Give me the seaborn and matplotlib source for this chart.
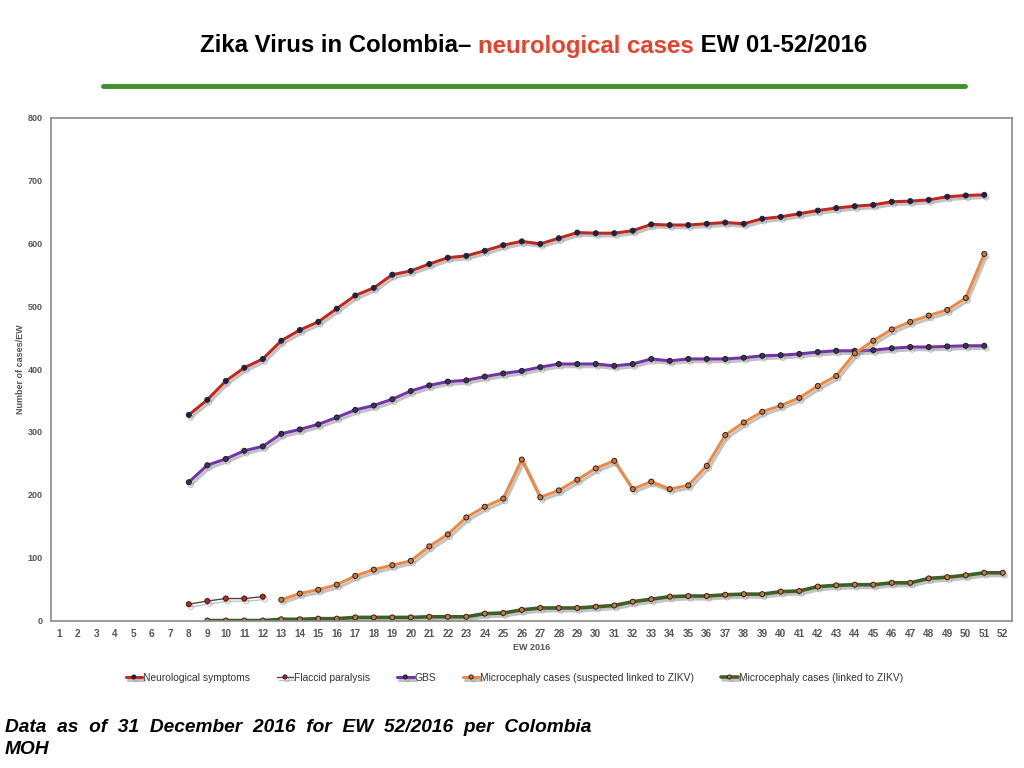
import matplotlib
matplotlib.use("Agg")
import matplotlib.pyplot as plt
import matplotlib.patheffects as pe
import seaborn as sns
import pandas as pd

# Weekly counts (EW 2016)
neuro_weeks = list(range(8, 52))
neuro_vals = [327, 351, 381, 402, 416, 445, 462, 475, 496, 517, 529, 550, 556, 567,
              577, 580, 588, 597, 603, 599, 608, 617, 616, 616, 620, 630, 629, 629,
              631, 633, 631, 639, 642, 647, 652, 656, 659, 661, 666, 667, 669, 674,
              676, 677]

flaccid_weeks = list(range(8, 13))
flaccid_vals = [26, 31, 35, 35, 38]

gbs_weeks = list(range(8, 52))
gbs_vals = [220, 247, 257, 270, 277, 297, 304, 312, 323, 335, 342, 352, 365, 374,
            380, 382, 388, 393, 397, 403, 408, 408, 408, 405, 408, 416, 413, 416,
            416, 416, 418, 421, 422, 424, 427, 429, 429, 430, 433, 435, 435, 436,
            437, 437]

micro_susp_weeks = list(range(13, 52))
micro_susp_vals = [33, 43, 49, 57, 71, 81, 88, 95, 118, 137, 164, 181, 194, 256,
                   196, 207, 224, 242, 254, 209, 221, 209, 215, 246, 295, 315, 332,
                   342, 354, 373, 389, 425, 445, 463, 475, 485, 494, 513, 583]

micro_link_weeks = list(range(9, 53))
micro_link_vals = [0, 0, 0, 0, 2, 2, 3, 3, 5, 5, 5, 5, 6, 6, 6, 11, 12, 17, 20, 20,
                   20, 22, 24, 30, 34, 38, 39, 39, 41, 42, 42, 46, 47, 54, 56, 57,
                   57, 60, 60, 67, 69, 72, 76, 76]

week_ticks = list(range(1, 53))

series = [
    ("Neurological symptoms", neuro_weeks, neuro_vals, "#c0281c", "#1c2340", "#1c2340", 2.2),
    ("Flaccid paralysis", flaccid_weeks, flaccid_vals, "#4a4a4a", "#c0281c", "#3a1010", 1.0),
    ("GBS", gbs_weeks, gbs_vals, "#7434a8", "#3a3550", "#1c1c2c", 2.2),
    ("Microcephaly cases (suspected linked to ZIKV)", micro_susp_weeks, micro_susp_vals,
     "#ea8a44", "#d9772e", "#222222", 2.2),
    ("Microcephaly cases (linked to ZIKV)", micro_link_weeks, micro_link_vals,
     "#3f5f2a", "#d9772e", "#222222", 2.6),
]

sns.set_theme(style="white")
plt.rcParams["font.family"] = ["Liberation Sans", "DejaVu Sans"]

fig = plt.figure(figsize=(10.24, 7.68), dpi=100)
ax = fig.add_axes([0.0498, 0.192, 0.9385, 0.655])

shadow = [pe.SimpleLineShadow(offset=(1.5, -2), shadow_color="#888888", alpha=0.5),
          pe.Normal()]

for name, weeks, vals, lc, mfc, mec, lw in series:
    df = pd.DataFrame({"EW": weeks, "cases": vals})
    sns.lineplot(data=df, x="EW", y="cases", ax=ax, color=lc, linewidth=lw,
                 marker="o", markersize=3.6, markerfacecolor=mfc,
                 markeredgecolor=mec, markeredgewidth=0.7, label=name,
                 path_effects=shadow)

ax.set_xlim(0.55, 52.5)
ax.set_ylim(0, 800)
ax.set_xticks(week_ticks)
ax.set_yticks(range(0, 801, 100))
ax.tick_params(axis="x", labelsize=7.2, colors="#555555", length=0, pad=6)
ax.tick_params(axis="y", labelsize=6.5, colors="#555555", length=0, pad=6)
for lab in ax.get_xticklabels() + ax.get_yticklabels():
    lab.set_fontweight("bold")
for sp in ax.spines.values():
    sp.set_color("#8a8a8a")
    sp.set_linewidth(1.2)

ax.set_xlabel("EW 2016", fontsize=6.5, fontweight="bold", color="#555555", labelpad=3)
ax.set_ylabel("Number of cases/EW", fontsize=6.5, fontweight="bold", color="#555555",
              labelpad=2)

leg = ax.legend(loc="upper center", bbox_to_anchor=(0.482, -0.085), ncol=5,
                frameon=False, fontsize=7.4, handlelength=1.6, handletextpad=0.1,
                columnspacing=2.6, markerscale=0.8)
for t in leg.get_texts():
    t.set_color("#333333")

# Title with red middle part
fig.canvas.draw()
r = fig.canvas.get_renderer()
parts = [("Zika Virus in Colombia– ", "black"), ("neurological cases", "#e8412c"),
         (" EW 01-52/2016", "black")]
texts = []
x = 0
for s, c in parts:
    t = fig.text(x, 1 - 46 / 768, s, fontsize=17.3, fontweight="bold", color=c,
                 ha="left", va="center")
    texts.append(t)
    x += t.get_window_extent(r).width / fig.bbox.width
x = 534 / 1024 - x / 2
for t in texts:
    t.set_x(x)
    x += t.get_window_extent(r).width / fig.bbox.width

fig.add_artist(plt.Line2D([103 / 1024, 965 / 1024], [1 - 86 / 768, 1 - 86 / 768],
                          color="#3f8f2a", linewidth=3.5))

fig.text(5 / 1024, 1 - 727 / 768,
         "Data  as  of  31  December  2016  for  EW  52/2016  per  Colombia",
         fontsize=13.8, fontweight="bold", fontstyle="italic", color="black",
         ha="left", va="center")
fig.text(5 / 1024, 1 - 749 / 768, "MOH", fontsize=13.8, fontweight="bold",
         fontstyle="italic", color="black", ha="left", va="center")

fig.savefig("out.png", dpi=100)
